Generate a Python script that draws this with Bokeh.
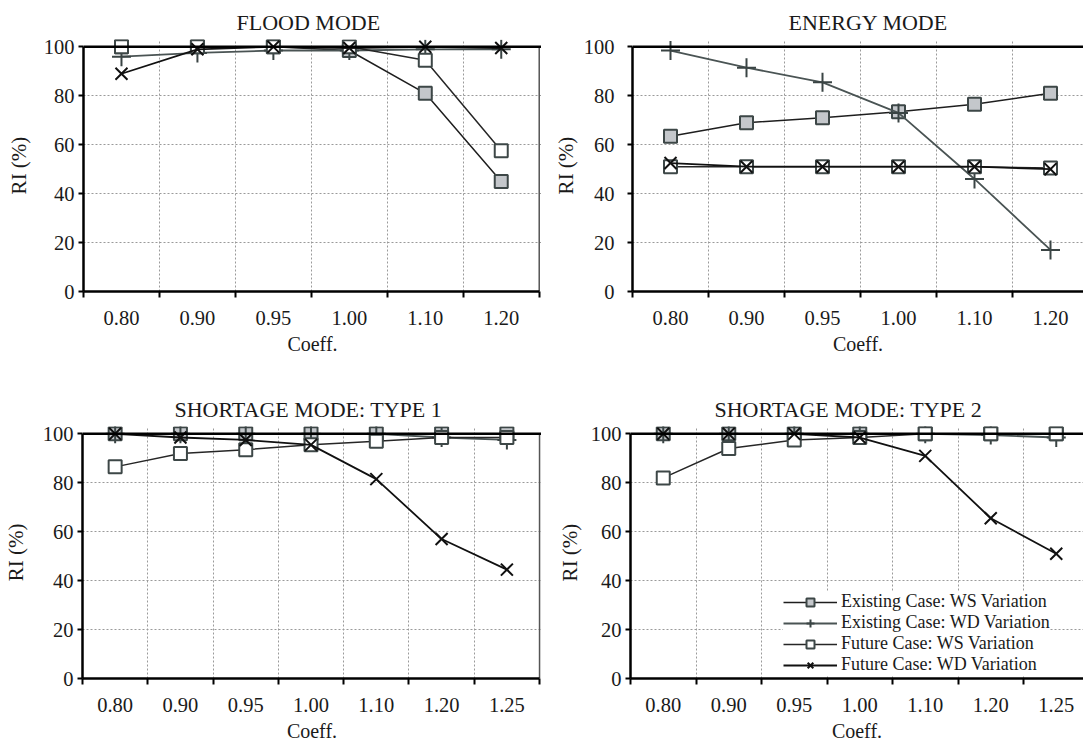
from bokeh.plotting import figure
from bokeh.models import FixedTicker, Span, Legend, LegendItem, Range1d
from bokeh.layouts import column, row
from bokeh.embed import file_html
from bokeh.resources import INLINE

FONT = "Liberation Serif"

# ---------------- data ----------------
coeff_a = ["0.80", "0.90", "0.95", "1.00", "1.10", "1.20"]
coeff_b = ["0.80", "0.90", "0.95", "1.00", "1.10", "1.20", "1.25"]
y_ticks = [0, 20, 40, 60, 80, 100]

series_names = ["Existing Case: WS Variation", "Existing Case: WD Variation",
                "Future Case: WS Variation", "Future Case: WD Variation"]

flood_exist_ws = [100, 100, 100, 98.5, 81, 45]
flood_exist_wd = [96, 97.5, 98.5, 98.5, 99, 99]
flood_future_ws = [100, 100, 100, 100, 94.5, 57.5]
flood_future_wd = [89, 99, 100, 99.5, 100, 99.5]

energy_exist_ws = [63.5, 69, 71, 73.5, 76.5, 81]
energy_exist_wd = [98.5, 91.5, 85.5, 73, 46, 17]
energy_future_ws = [51, 51, 51, 51, 51, 50.5]
energy_future_wd = [52.5, 51, 51, 51, 51, 50]

short1_exist_ws = [100, 100, 100, 100, 100, 100, 100]
short1_exist_wd = [100, 100, 100, 100, 100, 98.5, 97.5]
short1_future_ws = [86.5, 92, 93.5, 95.5, 97, 98.5, 98.5]
short1_future_wd = [100, 98.5, 97.5, 95.5, 81.5, 57, 44.5]

short2_exist_ws = [100, 100, 100, 100, 100, 100, 100]
short2_exist_wd = [100, 100, 100, 100, 100, 99.5, 98.5]
short2_future_ws = [82, 94, 97.5, 98.5, 100, 100, 100]
short2_future_wd = [100, 100, 100, 98.5, 91, 65.5, 51]

# ---------------- styles ----------------
STYLES = [
    dict(line_color="#1e1e1e", line_width=1.5, marker="square", size=13,
         fill_color="#c4c7cb", edge="#3d4747", edge_width=2),
    dict(line_color="#4a5454", line_width=1.8, marker="cross", size=19,
         fill_color=None, edge="#3a4444", edge_width=2),
    dict(line_color="#262626", line_width=1.5, marker="square", size=13,
         fill_color="white", edge="#3d4747", edge_width=2),
    dict(line_color="#111111", line_width=1.8, marker="x", size=17,
         fill_color=None, edge="#111111", edge_width=2),
]

Y_END = 103
TICK_FS = "20.5px"


def make_panel(title, cats, series, width, height, x_end, min_left, min_top,
               min_bottom, right_border, ylab_standoff, ylabel_standoff,
               title_offset, legend_loc=None):
    n = len(cats)
    centers = [i + 0.5 for i in range(n)]
    p = figure(width=width, height=height, x_range=Range1d(0, x_end),
               y_range=Range1d(0, Y_END), output_backend="svg",
               toolbar_location=None, title=title,
               min_border_left=min_left, min_border_right=0,
               min_border_top=min_top, min_border_bottom=min_bottom)
    p.outline_line_color = None
    p.background_fill_color = "white"
    p.border_fill_color = "white"

    p.title.align = "left"
    p.title.offset = title_offset
    p.title.text_font = FONT
    p.title.text_font_size = "22px"
    p.title.text_font_style = "normal"
    p.title.text_color = "#1a1a1a"
    p.title.standoff = 10

    # x axis: labels at category centres, ticks at boundaries
    xa = p.xaxis[0]
    xa.ticker = FixedTicker(ticks=centers, minor_ticks=list(range(0, n + 1)))
    xa.major_label_overrides = {c: lab for c, lab in zip(centers, cats)}
    xa.major_tick_out = 0
    xa.major_tick_in = 0
    xa.minor_tick_out = 6
    xa.minor_tick_in = 0
    xa.minor_tick_line_width = 2
    xa.minor_tick_line_color = "black"
    xa.axis_line_width = 2.5
    xa.axis_line_color = "black"
    xa.bounds = (0, n)
    xa.major_label_text_font = FONT
    xa.major_label_text_font_size = TICK_FS
    xa.major_label_text_color = "#1a1a1a"
    xa.major_label_standoff = 13
    xa.axis_label = "Coeff."
    xa.axis_label_text_font = FONT
    xa.axis_label_text_font_size = "20px"
    xa.axis_label_text_font_style = "normal"
    xa.axis_label_text_color = "#1a1a1a"
    xa.axis_label_standoff = 5

    ya = p.yaxis[0]
    ya.ticker = FixedTicker(ticks=y_ticks)
    ya.bounds = (y_ticks[0], y_ticks[-1])
    ya.major_tick_out = 5
    ya.major_tick_in = 0
    ya.minor_tick_out = 0
    ya.minor_tick_in = 0
    ya.major_tick_line_width = 2
    ya.major_tick_line_color = "black"
    ya.axis_line_width = 2.5
    ya.axis_line_color = "black"
    ya.major_label_text_font = FONT
    ya.major_label_text_font_size = TICK_FS
    ya.major_label_text_color = "#1a1a1a"
    ya.major_label_standoff = ylab_standoff
    ya.axis_label = "RI (%)"
    ya.axis_label_text_font = FONT
    ya.axis_label_text_font_size = "21px"
    ya.axis_label_text_font_style = "normal"
    ya.axis_label_text_color = "#1a1a1a"
    ya.axis_label_standoff = ylabel_standoff

    p.xgrid.ticker = FixedTicker(ticks=list(range(1, n)))
    p.ygrid.ticker = FixedTicker(ticks=y_ticks[1:-1])
    for g in (p.xgrid[0], p.ygrid[0]):
        g.grid_line_color = "#9a9a9a"
        g.grid_line_dash = "2 2"
        g.grid_line_width = 1

    # frame top line at 100 and right border
    p.add_layout(Span(location=y_ticks[-1], dimension="width",
                      line_color="black", line_width=2.5))
    if right_border:
        p.segment(x0=[n], y0=[y_ticks[0]], x1=[n], y1=[y_ticks[-1]],
                  line_color="#555555", line_width=1.5)

    items = []
    for name, vals, st in zip(series_names, series, STYLES):
        lr = p.line(centers, vals, line_color=st["line_color"], line_width=st["line_width"])
        mr = p.scatter(centers, vals, marker=st["marker"], size=st["size"],
                       fill_color=st["fill_color"], line_color=st["edge"],
                       line_width=st["edge_width"])
        items.append(LegendItem(label=name, renderers=[lr, mr]))

    if legend_loc is not None:
        lg = Legend(items=items, location=legend_loc,
                    orientation="vertical", padding=0, spacing=0, margin=0,
                    glyph_width=54, glyph_height=20, label_height=20,
                    label_standoff=4, label_text_font=FONT,
                    label_text_font_size="18px", label_text_color="#1a1a1a",
                    background_fill_color="white", background_fill_alpha=1.0,
                    border_line_color=None)
        p.add_layout(lg)
    return p


p1 = make_panel("FLOOD MODE", coeff_a,
                [flood_exist_ws, flood_exist_wd, flood_future_ws, flood_future_wd],
                width=541, height=360, x_end=len(coeff_a) + 0.03, min_left=83,
                min_top=39, min_bottom=69, right_border=True, ylab_standoff=4,
                ylabel_standoff=10, title_offset=153)
p2 = make_panel("ENERGY MODE", coeff_a,
                [energy_exist_ws, energy_exist_wd, energy_future_ws, energy_future_wd],
                width=542, height=360, x_end=451 / 76, min_left=91,
                min_top=39, min_bottom=69, right_border=False, ylab_standoff=13,
                ylabel_standoff=3, title_offset=156)
p3 = make_panel("SHORTAGE MODE: TYPE 1", coeff_b,
                [short1_exist_ws, short1_exist_wd, short1_future_ws, short1_future_wd],
                width=541, height=389, x_end=len(coeff_b) + 0.03, min_left=81,
                min_top=66, min_bottom=71, right_border=True, ylab_standoff=4,
                ylabel_standoff=12, title_offset=92)
p4 = make_panel("SHORTAGE MODE: TYPE 2", coeff_b,
                [short2_exist_ws, short2_exist_wd, short2_future_ws, short2_future_wd],
                width=542, height=389, x_end=453 / 65.5, min_left=89,
                min_top=66, min_bottom=71, right_border=False, ylab_standoff=4,
                ylabel_standoff=6, title_offset=84, legend_loc=(153, 3))

layout = column(row(p1, p2), row(p3, p4))
open("out.html", "w").write(file_html(layout, INLINE))
